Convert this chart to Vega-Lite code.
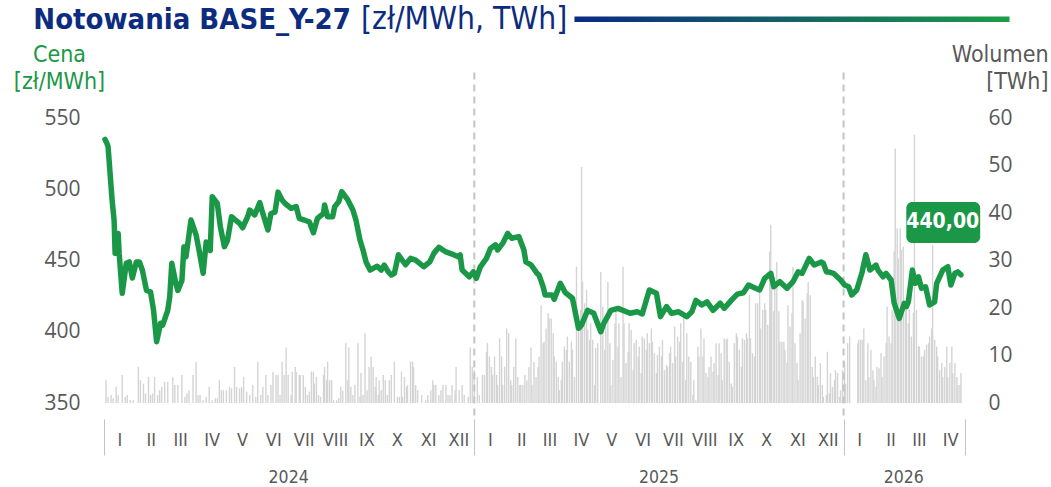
{
  "$schema": "https://vega.github.io/schema/vega-lite/v6.json",
  "width": 861,
  "height": 285,
  "autosize": {"type": "none"},
  "padding": {"left": 104, "top": 118, "right": 86, "bottom": 84},
  "background": "#ffffff",
  "config": {
    "view": {"stroke": null},
    "locale": {"number": {"decimal": ",", "thousands": " ", "grouping": [3], "currency": ["", " zł"]}}
  },
  "datasets": {
    "prices": [
      {"date": "2024-01-02", "price": 535}, {"date": "2024-01-04", "price": 532}, {"date": "2024-01-05", "price": 530},
      {"date": "2024-01-09", "price": 492.5}, {"date": "2024-01-11", "price": 478}, {"date": "2024-01-12", "price": 455},
      {"date": "2024-01-15", "price": 469}, {"date": "2024-01-16", "price": 455}, {"date": "2024-01-19", "price": 427},
      {"date": "2024-01-23", "price": 448}, {"date": "2024-01-26", "price": 449}, {"date": "2024-01-29", "price": 437.7},
      {"date": "2024-02-02", "price": 449}, {"date": "2024-02-05", "price": 449}, {"date": "2024-02-08", "price": 443},
      {"date": "2024-02-12", "price": 429}, {"date": "2024-02-16", "price": 428}, {"date": "2024-02-19", "price": 415},
      {"date": "2024-02-22", "price": 393}, {"date": "2024-02-26", "price": 406}, {"date": "2024-02-28", "price": 404.7},
      {"date": "2024-03-04", "price": 415}, {"date": "2024-03-06", "price": 424.6}, {"date": "2024-03-08", "price": 448},
      {"date": "2024-03-12", "price": 434}, {"date": "2024-03-14", "price": 429}, {"date": "2024-03-18", "price": 436},
      {"date": "2024-03-20", "price": 459.7}, {"date": "2024-03-22", "price": 452.6}, {"date": "2024-03-27", "price": 478.4},
      {"date": "2024-04-01", "price": 468}, {"date": "2024-04-04", "price": 457}, {"date": "2024-04-08", "price": 441},
      {"date": "2024-04-11", "price": 463}, {"date": "2024-04-15", "price": 457}, {"date": "2024-04-17", "price": 494.8},
      {"date": "2024-04-22", "price": 490}, {"date": "2024-04-25", "price": 473.7}, {"date": "2024-04-29", "price": 459.7},
      {"date": "2024-05-02", "price": 464}, {"date": "2024-05-06", "price": 480.7}, {"date": "2024-05-10", "price": 478.4},
      {"date": "2024-05-14", "price": 476}, {"date": "2024-05-17", "price": 473}, {"date": "2024-05-22", "price": 480.7},
      {"date": "2024-05-24", "price": 485.4}, {"date": "2024-05-29", "price": 482}, {"date": "2024-06-03", "price": 490.6},
      {"date": "2024-06-05", "price": 485.4}, {"date": "2024-06-07", "price": 480.7}, {"date": "2024-06-11", "price": 471.4},
      {"date": "2024-06-14", "price": 483}, {"date": "2024-06-18", "price": 484}, {"date": "2024-06-21", "price": 498},
      {"date": "2024-06-25", "price": 492.5}, {"date": "2024-06-28", "price": 490}, {"date": "2024-07-04", "price": 486.6},
      {"date": "2024-07-09", "price": 487.8}, {"date": "2024-07-12", "price": 479.6}, {"date": "2024-07-17", "price": 478.4},
      {"date": "2024-07-22", "price": 477}, {"date": "2024-07-26", "price": 469.5}, {"date": "2024-07-30", "price": 479.6},
      {"date": "2024-08-05", "price": 483}, {"date": "2024-08-06", "price": 489}, {"date": "2024-08-09", "price": 480.7},
      {"date": "2024-08-14", "price": 480.7}, {"date": "2024-08-16", "price": 487.8}, {"date": "2024-08-20", "price": 491.3},
      {"date": "2024-08-23", "price": 498.3}, {"date": "2024-08-29", "price": 492.5}, {"date": "2024-09-03", "price": 485.4},
      {"date": "2024-09-06", "price": 478.4}, {"date": "2024-09-10", "price": 464.4}, {"date": "2024-09-13", "price": 457.4},
      {"date": "2024-09-16", "price": 449}, {"date": "2024-09-20", "price": 443.3}, {"date": "2024-09-27", "price": 446},
      {"date": "2024-10-01", "price": 443.3}, {"date": "2024-10-04", "price": 446.8}, {"date": "2024-10-08", "price": 442},
      {"date": "2024-10-11", "price": 439.8}, {"date": "2024-10-14", "price": 441}, {"date": "2024-10-18", "price": 454},
      {"date": "2024-10-25", "price": 447}, {"date": "2024-10-30", "price": 451.5}, {"date": "2024-11-04", "price": 450.3},
      {"date": "2024-11-08", "price": 448}, {"date": "2024-11-12", "price": 445.6}, {"date": "2024-11-18", "price": 449},
      {"date": "2024-11-22", "price": 455}, {"date": "2024-11-27", "price": 459.3}, {"date": "2024-12-04", "price": 456},
      {"date": "2024-12-10", "price": 454.5}, {"date": "2024-12-16", "price": 452.6}, {"date": "2024-12-18", "price": 453.9},
      {"date": "2024-12-20", "price": 443.3}, {"date": "2024-12-27", "price": 438.6}, {"date": "2024-12-31", "price": 442},
      {"date": "2025-01-03", "price": 437.5}, {"date": "2025-01-07", "price": 445.6}, {"date": "2025-01-13", "price": 451.5},
      {"date": "2025-01-17", "price": 458.5}, {"date": "2025-01-22", "price": 461}, {"date": "2025-01-24", "price": 457.4},
      {"date": "2025-01-29", "price": 462}, {"date": "2025-02-03", "price": 469}, {"date": "2025-02-07", "price": 465.6},
      {"date": "2025-02-14", "price": 466.8}, {"date": "2025-02-19", "price": 457.4}, {"date": "2025-02-21", "price": 449},
      {"date": "2025-02-26", "price": 447}, {"date": "2025-03-04", "price": 441}, {"date": "2025-03-06", "price": 439.8},
      {"date": "2025-03-10", "price": 431.6}, {"date": "2025-03-12", "price": 425.8}, {"date": "2025-03-19", "price": 425.8},
      {"date": "2025-03-21", "price": 422.8}, {"date": "2025-03-27", "price": 434}, {"date": "2025-04-01", "price": 427.4},
      {"date": "2025-04-08", "price": 423.5}, {"date": "2025-04-14", "price": 402.4}, {"date": "2025-04-17", "price": 404.7},
      {"date": "2025-04-23", "price": 415}, {"date": "2025-04-29", "price": 413}, {"date": "2025-05-06", "price": 400},
      {"date": "2025-05-09", "price": 405.9}, {"date": "2025-05-16", "price": 415}, {"date": "2025-05-23", "price": 416.4},
      {"date": "2025-06-04", "price": 413}, {"date": "2025-06-11", "price": 414}, {"date": "2025-06-16", "price": 412.5},
      {"date": "2025-06-23", "price": 429.3}, {"date": "2025-06-30", "price": 427}, {"date": "2025-07-04", "price": 410.6},
      {"date": "2025-07-10", "price": 417.6}, {"date": "2025-07-15", "price": 413}, {"date": "2025-07-22", "price": 414},
      {"date": "2025-07-30", "price": 410.6}, {"date": "2025-08-04", "price": 414}, {"date": "2025-08-08", "price": 422},
      {"date": "2025-08-14", "price": 418.8}, {"date": "2025-08-19", "price": 421}, {"date": "2025-08-25", "price": 415},
      {"date": "2025-09-01", "price": 420}, {"date": "2025-09-05", "price": 416.4}, {"date": "2025-09-12", "price": 422},
      {"date": "2025-09-18", "price": 426.4}, {"date": "2025-09-24", "price": 427.4}, {"date": "2025-09-29", "price": 432.8},
      {"date": "2025-10-06", "price": 430.5}, {"date": "2025-10-10", "price": 429.3}, {"date": "2025-10-15", "price": 437.5},
      {"date": "2025-10-21", "price": 441}, {"date": "2025-10-24", "price": 431.6}, {"date": "2025-10-30", "price": 435.1},
      {"date": "2025-11-06", "price": 430.5}, {"date": "2025-11-12", "price": 435.1}, {"date": "2025-11-17", "price": 442},
      {"date": "2025-11-21", "price": 441}, {"date": "2025-11-28", "price": 451.5}, {"date": "2025-12-03", "price": 446.8},
      {"date": "2025-12-10", "price": 449}, {"date": "2025-12-12", "price": 448}, {"date": "2025-12-15", "price": 442},
      {"date": "2025-12-17", "price": 442}, {"date": "2025-12-22", "price": 441}, {"date": "2025-12-29", "price": 436.3},
      {"date": "2026-01-02", "price": 432.8}, {"date": "2026-01-06", "price": 431.6}, {"date": "2026-01-09", "price": 425.8},
      {"date": "2026-01-14", "price": 429.3}, {"date": "2026-01-19", "price": 441}, {"date": "2026-01-23", "price": 454},
      {"date": "2026-01-27", "price": 443.3}, {"date": "2026-02-02", "price": 446.8}, {"date": "2026-02-04", "price": 443.3},
      {"date": "2026-02-09", "price": 438.6}, {"date": "2026-02-12", "price": 441}, {"date": "2026-02-17", "price": 436.3},
      {"date": "2026-02-20", "price": 420}, {"date": "2026-02-25", "price": 409.4}, {"date": "2026-03-02", "price": 420},
      {"date": "2026-03-04", "price": 417.6}, {"date": "2026-03-06", "price": 421}, {"date": "2026-03-10", "price": 443.3},
      {"date": "2026-03-13", "price": 434}, {"date": "2026-03-16", "price": 438.6}, {"date": "2026-03-19", "price": 430.5},
      {"date": "2026-03-23", "price": 431.6}, {"date": "2026-03-27", "price": 418.8}, {"date": "2026-04-01", "price": 421},
      {"date": "2026-04-03", "price": 434}, {"date": "2026-04-09", "price": 443.3}, {"date": "2026-04-14", "price": 445.6},
      {"date": "2026-04-17", "price": 432.8}, {"date": "2026-04-21", "price": 441}, {"date": "2026-04-24", "price": 442},
      {"date": "2026-04-27", "price": 440}
    ],
    "volumes": [
      {"date": "2024-01-03", "volume": 4.8}, {"date": "2024-01-05", "volume": 1.3}, {"date": "2024-01-08", "volume": 1.7}, {"date": "2024-01-10", "volume": 1.0},
      {"date": "2024-01-13", "volume": 3.4}, {"date": "2024-01-15", "volume": 1.7}, {"date": "2024-01-19", "volume": 5.9}, {"date": "2024-01-22", "volume": 1.3},
      {"date": "2024-01-24", "volume": 1.7}, {"date": "2024-01-27", "volume": 0.6}, {"date": "2024-01-30", "volume": 0.6}, {"date": "2024-02-04", "volume": 7.6},
      {"date": "2024-02-06", "volume": 4.8}, {"date": "2024-02-09", "volume": 4.1}, {"date": "2024-02-11", "volume": 2.0}, {"date": "2024-02-14", "volume": 5.5},
      {"date": "2024-02-16", "volume": 1.7}, {"date": "2024-02-18", "volume": 2.0}, {"date": "2024-02-20", "volume": 5.5}, {"date": "2024-02-23", "volume": 1.7},
      {"date": "2024-02-25", "volume": 2.7}, {"date": "2024-02-27", "volume": 3.4}, {"date": "2024-03-01", "volume": 4.5}, {"date": "2024-03-04", "volume": 4.5},
      {"date": "2024-03-09", "volume": 5.5}, {"date": "2024-03-11", "volume": 3.8}, {"date": "2024-03-14", "volume": 3.8}, {"date": "2024-03-18", "volume": 5.9},
      {"date": "2024-03-21", "volume": 1.3}, {"date": "2024-03-23", "volume": 2.0}, {"date": "2024-03-25", "volume": 2.7}, {"date": "2024-03-29", "volume": 5.9},
      {"date": "2024-04-01", "volume": 8.7}, {"date": "2024-04-03", "volume": 1.7}, {"date": "2024-04-05", "volume": 1.7}, {"date": "2024-04-08", "volume": 0.6},
      {"date": "2024-04-11", "volume": 1.3}, {"date": "2024-04-14", "volume": 3.4}, {"date": "2024-04-17", "volume": 0.6}, {"date": "2024-04-20", "volume": 1.0},
      {"date": "2024-04-22", "volume": 1.0}, {"date": "2024-04-24", "volume": 4.8}, {"date": "2024-04-26", "volume": 2.7}, {"date": "2024-04-28", "volume": 2.7},
      {"date": "2024-05-01", "volume": 2.7}, {"date": "2024-05-04", "volume": 3.4}, {"date": "2024-05-06", "volume": 3.1}, {"date": "2024-05-09", "volume": 7.6},
      {"date": "2024-05-11", "volume": 3.4}, {"date": "2024-05-14", "volume": 3.1}, {"date": "2024-05-16", "volume": 3.4}, {"date": "2024-05-18", "volume": 5.5},
      {"date": "2024-05-21", "volume": 2.4}, {"date": "2024-05-24", "volume": 1.7}, {"date": "2024-05-27", "volume": 3.8}, {"date": "2024-05-30", "volume": 1.3},
      {"date": "2024-06-01", "volume": 8.7}, {"date": "2024-06-04", "volume": 1.7}, {"date": "2024-06-06", "volume": 3.4}, {"date": "2024-06-09", "volume": 5.9},
      {"date": "2024-06-11", "volume": 1.7}, {"date": "2024-06-14", "volume": 3.8}, {"date": "2024-06-16", "volume": 6.6}, {"date": "2024-06-19", "volume": 5.9},
      {"date": "2024-06-21", "volume": 5.9}, {"date": "2024-06-23", "volume": 1.7}, {"date": "2024-06-25", "volume": 8.7}, {"date": "2024-06-27", "volume": 5.9},
      {"date": "2024-06-29", "volume": 11.7}, {"date": "2024-07-01", "volume": 5.9}, {"date": "2024-07-04", "volume": 1.7}, {"date": "2024-07-05", "volume": 6.6},
      {"date": "2024-07-08", "volume": 7.6}, {"date": "2024-07-09", "volume": 6.6}, {"date": "2024-07-12", "volume": 5.9}, {"date": "2024-07-13", "volume": 5.9},
      {"date": "2024-07-16", "volume": 5.9}, {"date": "2024-07-18", "volume": 3.4}, {"date": "2024-07-20", "volume": 1.7}, {"date": "2024-07-22", "volume": 2.4},
      {"date": "2024-07-24", "volume": 6.6}, {"date": "2024-07-26", "volume": 6.6}, {"date": "2024-07-27", "volume": 4.1}, {"date": "2024-07-29", "volume": 5.5},
      {"date": "2024-07-31", "volume": 1.7}, {"date": "2024-08-02", "volume": 1.3}, {"date": "2024-08-05", "volume": 5.9}, {"date": "2024-08-06", "volume": 7.6},
      {"date": "2024-08-08", "volume": 4.8}, {"date": "2024-08-09", "volume": 8.7}, {"date": "2024-08-11", "volume": 4.8}, {"date": "2024-08-13", "volume": 4.8},
      {"date": "2024-08-15", "volume": 0.6}, {"date": "2024-08-18", "volume": 0.6}, {"date": "2024-08-20", "volume": 1.0}, {"date": "2024-08-22", "volume": 3.4},
      {"date": "2024-08-24", "volume": 2.7}, {"date": "2024-08-27", "volume": 12.6}, {"date": "2024-08-29", "volume": 4.8}, {"date": "2024-08-30", "volume": 11.7},
      {"date": "2024-09-01", "volume": 3.4}, {"date": "2024-09-03", "volume": 1.7}, {"date": "2024-09-05", "volume": 3.8}, {"date": "2024-09-08", "volume": 12.6},
      {"date": "2024-09-10", "volume": 1.3}, {"date": "2024-09-11", "volume": 6.3}, {"date": "2024-09-13", "volume": 1.7}, {"date": "2024-09-15", "volume": 14.7},
      {"date": "2024-09-17", "volume": 2.7}, {"date": "2024-09-19", "volume": 7.6}, {"date": "2024-09-21", "volume": 9.8}, {"date": "2024-09-23", "volume": 7.6},
      {"date": "2024-09-25", "volume": 3.4}, {"date": "2024-09-26", "volume": 5.5}, {"date": "2024-09-28", "volume": 1.7}, {"date": "2024-09-29", "volume": 4.8},
      {"date": "2024-10-01", "volume": 2.7}, {"date": "2024-10-03", "volume": 5.9}, {"date": "2024-10-05", "volume": 4.8}, {"date": "2024-10-07", "volume": 1.7},
      {"date": "2024-10-09", "volume": 4.8}, {"date": "2024-10-11", "volume": 5.9}, {"date": "2024-10-14", "volume": 8.7}, {"date": "2024-10-17", "volume": 1.3},
      {"date": "2024-10-19", "volume": 1.3}, {"date": "2024-10-21", "volume": 6.6}, {"date": "2024-10-22", "volume": 1.3}, {"date": "2024-10-24", "volume": 5.5},
      {"date": "2024-10-26", "volume": 3.4}, {"date": "2024-10-27", "volume": 3.8}, {"date": "2024-10-30", "volume": 8.7}, {"date": "2024-11-01", "volume": 8.7},
      {"date": "2024-11-02", "volume": 7.6}, {"date": "2024-11-04", "volume": 3.8}, {"date": "2024-11-06", "volume": 2.7}, {"date": "2024-11-10", "volume": 1.7},
      {"date": "2024-11-14", "volume": 0.6}, {"date": "2024-11-16", "volume": 1.7}, {"date": "2024-11-19", "volume": 2.7}, {"date": "2024-11-21", "volume": 4.8},
      {"date": "2024-11-22", "volume": 3.8}, {"date": "2024-11-24", "volume": 3.8}, {"date": "2024-11-27", "volume": 1.7}, {"date": "2024-11-29", "volume": 2.7},
      {"date": "2024-12-01", "volume": 3.8}, {"date": "2024-12-04", "volume": 3.8}, {"date": "2024-12-06", "volume": 1.7}, {"date": "2024-12-08", "volume": 1.7},
      {"date": "2024-12-10", "volume": 3.8}, {"date": "2024-12-13", "volume": 2.7}, {"date": "2024-12-14", "volume": 7.6}, {"date": "2024-12-17", "volume": 2.7},
      {"date": "2024-12-20", "volume": 3.8}, {"date": "2024-12-22", "volume": 1.7}, {"date": "2024-12-26", "volume": 1.3}, {"date": "2024-12-28", "volume": 11.7},
      {"date": "2024-12-30", "volume": 7.6},
      {"date": "2025-01-01", "volume": 6.9}, {"date": "2025-01-04", "volume": 5.5}, {"date": "2025-01-06", "volume": 1.7}, {"date": "2025-01-09", "volume": 5.9},
      {"date": "2025-01-11", "volume": 5.9}, {"date": "2025-01-13", "volume": 10.8}, {"date": "2025-01-14", "volume": 12.6}, {"date": "2025-01-16", "volume": 9.8},
      {"date": "2025-01-18", "volume": 7.6}, {"date": "2025-01-19", "volume": 5.9}, {"date": "2025-01-21", "volume": 9.8}, {"date": "2025-01-23", "volume": 5.9},
      {"date": "2025-01-24", "volume": 3.8}, {"date": "2025-01-26", "volume": 13.6}, {"date": "2025-01-28", "volume": 9.8}, {"date": "2025-01-29", "volume": 3.8},
      {"date": "2025-01-31", "volume": 7.6}, {"date": "2025-02-02", "volume": 15.7}, {"date": "2025-02-04", "volume": 14.7}, {"date": "2025-02-06", "volume": 4.8},
      {"date": "2025-02-07", "volume": 3.8}, {"date": "2025-02-09", "volume": 7.6}, {"date": "2025-02-11", "volume": 13.6}, {"date": "2025-02-13", "volume": 5.5},
      {"date": "2025-02-15", "volume": 3.8}, {"date": "2025-02-16", "volume": 3.8}, {"date": "2025-02-18", "volume": 3.8}, {"date": "2025-02-20", "volume": 5.9},
      {"date": "2025-02-22", "volume": 4.8}, {"date": "2025-02-24", "volume": 7.6}, {"date": "2025-02-26", "volume": 11.7}, {"date": "2025-02-27", "volume": 3.8},
      {"date": "2025-03-01", "volume": 8.7}, {"date": "2025-03-03", "volume": 5.5}, {"date": "2025-03-05", "volume": 7.6}, {"date": "2025-03-06", "volume": 9.8},
      {"date": "2025-03-08", "volume": 20.6}, {"date": "2025-03-10", "volume": 12.6}, {"date": "2025-03-11", "volume": 12.9}, {"date": "2025-03-13", "volume": 15.7},
      {"date": "2025-03-15", "volume": 18.9}, {"date": "2025-03-16", "volume": 17.8}, {"date": "2025-03-18", "volume": 17.8}, {"date": "2025-03-20", "volume": 14.7},
      {"date": "2025-03-21", "volume": 9.8}, {"date": "2025-03-23", "volume": 8.7}, {"date": "2025-03-25", "volume": 5.5}, {"date": "2025-03-26", "volume": 2.7},
      {"date": "2025-03-28", "volume": 4.8}, {"date": "2025-03-29", "volume": 8.7}, {"date": "2025-03-31", "volume": 11.9}, {"date": "2025-04-02", "volume": 11.2},
      {"date": "2025-04-03", "volume": 14.0}, {"date": "2025-04-05", "volume": 8.7}, {"date": "2025-04-07", "volume": 12.9}, {"date": "2025-04-08", "volume": 11.2},
      {"date": "2025-04-10", "volume": 5.5}, {"date": "2025-04-12", "volume": 28.7}, {"date": "2025-04-14", "volume": 15.4}, {"date": "2025-04-16", "volume": 19.6},
      {"date": "2025-04-17", "volume": 49.7}, {"date": "2025-04-18", "volume": 25.5}, {"date": "2025-04-20", "volume": 21.0}, {"date": "2025-04-22", "volume": 23.8},
      {"date": "2025-04-23", "volume": 15.4}, {"date": "2025-04-25", "volume": 13.3}, {"date": "2025-04-26", "volume": 16.8}, {"date": "2025-04-28", "volume": 13.3},
      {"date": "2025-04-30", "volume": 3.8}, {"date": "2025-05-01", "volume": 11.6}, {"date": "2025-05-03", "volume": 12.6}, {"date": "2025-05-06", "volume": 27.6},
      {"date": "2025-05-08", "volume": 20.3}, {"date": "2025-05-10", "volume": 11.2}, {"date": "2025-05-11", "volume": 16.1}, {"date": "2025-05-13", "volume": 25.5},
      {"date": "2025-05-15", "volume": 12.6}, {"date": "2025-05-16", "volume": 3.8}, {"date": "2025-05-18", "volume": 9.1}, {"date": "2025-05-20", "volume": 16.8},
      {"date": "2025-05-21", "volume": 19.6}, {"date": "2025-05-23", "volume": 11.9}, {"date": "2025-05-24", "volume": 16.8}, {"date": "2025-05-26", "volume": 5.5},
      {"date": "2025-05-28", "volume": 28.7}, {"date": "2025-05-29", "volume": 16.8}, {"date": "2025-05-31", "volume": 8.4}, {"date": "2025-06-02", "volume": 10.8},
      {"date": "2025-06-03", "volume": 16.8}, {"date": "2025-06-05", "volume": 15.4}, {"date": "2025-06-07", "volume": 6.9}, {"date": "2025-06-08", "volume": 12.6},
      {"date": "2025-06-10", "volume": 13.3}, {"date": "2025-06-12", "volume": 9.8}, {"date": "2025-06-13", "volume": 11.9}, {"date": "2025-06-15", "volume": 6.3},
      {"date": "2025-06-16", "volume": 14.0}, {"date": "2025-06-18", "volume": 13.6}, {"date": "2025-06-20", "volume": 11.2}, {"date": "2025-06-21", "volume": 14.7},
      {"date": "2025-06-23", "volume": 12.6}, {"date": "2025-06-25", "volume": 15.7}, {"date": "2025-06-26", "volume": 12.9}, {"date": "2025-06-28", "volume": 10.5},
      {"date": "2025-06-30", "volume": 6.3}, {"date": "2025-07-01", "volume": 10.1}, {"date": "2025-07-03", "volume": 11.9}, {"date": "2025-07-05", "volume": 9.8},
      {"date": "2025-07-06", "volume": 13.3}, {"date": "2025-07-08", "volume": 6.9}, {"date": "2025-07-10", "volume": 8.0}, {"date": "2025-07-11", "volume": 7.6},
      {"date": "2025-07-13", "volume": 10.5}, {"date": "2025-07-14", "volume": 11.9}, {"date": "2025-07-16", "volume": 8.4}, {"date": "2025-07-18", "volume": 16.1},
      {"date": "2025-07-19", "volume": 9.8}, {"date": "2025-07-21", "volume": 14.0}, {"date": "2025-07-23", "volume": 12.9}, {"date": "2025-07-24", "volume": 16.8},
      {"date": "2025-07-26", "volume": 8.7}, {"date": "2025-07-27", "volume": 18.2}, {"date": "2025-07-29", "volume": 4.8}, {"date": "2025-07-30", "volume": 14.7},
      {"date": "2025-08-01", "volume": 9.8}, {"date": "2025-08-03", "volume": 8.7}, {"date": "2025-08-05", "volume": 1.7}, {"date": "2025-08-06", "volume": 4.8},
      {"date": "2025-08-08", "volume": 0.6}, {"date": "2025-08-10", "volume": 11.9}, {"date": "2025-08-11", "volume": 9.8}, {"date": "2025-08-13", "volume": 15.7},
      {"date": "2025-08-15", "volume": 9.8}, {"date": "2025-08-16", "volume": 13.6}, {"date": "2025-08-18", "volume": 6.3}, {"date": "2025-08-20", "volume": 5.5},
      {"date": "2025-08-21", "volume": 7.6}, {"date": "2025-08-23", "volume": 9.8}, {"date": "2025-08-25", "volume": 6.6}, {"date": "2025-08-26", "volume": 8.4},
      {"date": "2025-08-28", "volume": 12.6}, {"date": "2025-08-30", "volume": 5.9}, {"date": "2025-08-31", "volume": 12.6}, {"date": "2025-09-02", "volume": 10.5},
      {"date": "2025-09-03", "volume": 4.8}, {"date": "2025-09-05", "volume": 13.6}, {"date": "2025-09-07", "volume": 13.3}, {"date": "2025-09-08", "volume": 13.6},
      {"date": "2025-09-10", "volume": 8.7}, {"date": "2025-09-12", "volume": 4.1}, {"date": "2025-09-13", "volume": 3.4}, {"date": "2025-09-15", "volume": 12.6},
      {"date": "2025-09-17", "volume": 14.7}, {"date": "2025-09-18", "volume": 14.0}, {"date": "2025-09-20", "volume": 11.2}, {"date": "2025-09-22", "volume": 7.6},
      {"date": "2025-09-23", "volume": 13.6}, {"date": "2025-09-25", "volume": 13.3}, {"date": "2025-09-27", "volume": 14.7}, {"date": "2025-09-28", "volume": 13.6},
      {"date": "2025-09-30", "volume": 22.7}, {"date": "2025-10-01", "volume": 13.6}, {"date": "2025-10-03", "volume": 10.5}, {"date": "2025-10-05", "volume": 9.8},
      {"date": "2025-10-06", "volume": 21.0}, {"date": "2025-10-08", "volume": 21.0}, {"date": "2025-10-10", "volume": 23.4}, {"date": "2025-10-11", "volume": 15.7},
      {"date": "2025-10-13", "volume": 19.6}, {"date": "2025-10-15", "volume": 21.0}, {"date": "2025-10-16", "volume": 19.6}, {"date": "2025-10-18", "volume": 16.5},
      {"date": "2025-10-20", "volume": 31.9}, {"date": "2025-10-21", "volume": 37.5}, {"date": "2025-10-22", "volume": 25.5}, {"date": "2025-10-24", "volume": 19.3},
      {"date": "2025-10-25", "volume": 26.6}, {"date": "2025-10-27", "volume": 29.7}, {"date": "2025-10-29", "volume": 19.3}, {"date": "2025-10-30", "volume": 12.9},
      {"date": "2025-11-01", "volume": 12.9}, {"date": "2025-11-03", "volume": 12.9}, {"date": "2025-11-04", "volume": 11.2}, {"date": "2025-11-06", "volume": 8.4},
      {"date": "2025-11-07", "volume": 20.6}, {"date": "2025-11-09", "volume": 16.1}, {"date": "2025-11-11", "volume": 18.9}, {"date": "2025-11-12", "volume": 28.7},
      {"date": "2025-11-14", "volume": 12.6}, {"date": "2025-11-16", "volume": 8.4}, {"date": "2025-11-17", "volume": 4.8}, {"date": "2025-11-19", "volume": 14.7},
      {"date": "2025-11-21", "volume": 21.7}, {"date": "2025-11-22", "volume": 21.3}, {"date": "2025-11-24", "volume": 17.8}, {"date": "2025-11-26", "volume": 23.1},
      {"date": "2025-11-27", "volume": 25.5}, {"date": "2025-11-29", "volume": 22.7}, {"date": "2025-12-01", "volume": 7.6}, {"date": "2025-12-02", "volume": 5.5},
      {"date": "2025-12-04", "volume": 9.8}, {"date": "2025-12-06", "volume": 5.5}, {"date": "2025-12-07", "volume": 3.8}, {"date": "2025-12-09", "volume": 8.4},
      {"date": "2025-12-11", "volume": 3.8}, {"date": "2025-12-12", "volume": 1.3}, {"date": "2025-12-15", "volume": 1.7}, {"date": "2025-12-16", "volume": 10.8},
      {"date": "2025-12-18", "volume": 2.0}, {"date": "2025-12-19", "volume": 6.3}, {"date": "2025-12-21", "volume": 3.4}, {"date": "2025-12-23", "volume": 4.8},
      {"date": "2025-12-24", "volume": 6.9}, {"date": "2025-12-26", "volume": 6.3}, {"date": "2025-12-28", "volume": 1.3}, {"date": "2025-12-29", "volume": 2.7},
      {"date": "2025-12-31", "volume": 6.9},
      {"date": "2026-01-02", "volume": 8.7}, {"date": "2026-01-03", "volume": 4.1}, {"date": "2026-01-05", "volume": 12.6}, {"date": "2026-01-07", "volume": 14.0},
      {"date": "2026-01-15", "volume": 12.6}, {"date": "2026-01-16", "volume": 13.3}, {"date": "2026-01-18", "volume": 13.3}, {"date": "2026-01-20", "volume": 13.3},
      {"date": "2026-01-21", "volume": 15.7}, {"date": "2026-01-23", "volume": 4.8}, {"date": "2026-01-25", "volume": 12.6}, {"date": "2026-01-26", "volume": 5.5},
      {"date": "2026-01-28", "volume": 11.2}, {"date": "2026-01-30", "volume": 6.9}, {"date": "2026-01-31", "volume": 4.8}, {"date": "2026-02-02", "volume": 3.4},
      {"date": "2026-02-03", "volume": 7.6}, {"date": "2026-02-05", "volume": 7.3}, {"date": "2026-02-07", "volume": 10.5}, {"date": "2026-02-08", "volume": 5.5},
      {"date": "2026-02-10", "volume": 9.8}, {"date": "2026-02-12", "volume": 12.6}, {"date": "2026-02-13", "volume": 20.3}, {"date": "2026-02-15", "volume": 14.0},
      {"date": "2026-02-17", "volume": 12.6}, {"date": "2026-02-18", "volume": 19.6}, {"date": "2026-02-20", "volume": 31.9}, {"date": "2026-02-21", "volume": 53.6},
      {"date": "2026-02-23", "volume": 36.8}, {"date": "2026-02-24", "volume": 30.5}, {"date": "2026-02-26", "volume": 36.8}, {"date": "2026-02-27", "volume": 32.2},
      {"date": "2026-03-01", "volume": 32.9}, {"date": "2026-03-03", "volume": 19.6}, {"date": "2026-03-04", "volume": 19.6}, {"date": "2026-03-06", "volume": 16.8},
      {"date": "2026-03-07", "volume": 19.6}, {"date": "2026-03-09", "volume": 14.0}, {"date": "2026-03-11", "volume": 18.9}, {"date": "2026-03-12", "volume": 56.5},
      {"date": "2026-03-14", "volume": 19.6}, {"date": "2026-03-16", "volume": 11.9}, {"date": "2026-03-17", "volume": 11.9}, {"date": "2026-03-19", "volume": 9.8},
      {"date": "2026-03-21", "volume": 9.8}, {"date": "2026-03-22", "volume": 11.2}, {"date": "2026-03-24", "volume": 12.3}, {"date": "2026-03-26", "volume": 12.6},
      {"date": "2026-03-27", "volume": 14.0}, {"date": "2026-03-29", "volume": 15.7}, {"date": "2026-03-30", "volume": 33.3}, {"date": "2026-04-01", "volume": 13.3},
      {"date": "2026-04-03", "volume": 11.9}, {"date": "2026-04-04", "volume": 9.8}, {"date": "2026-04-06", "volume": 6.9}, {"date": "2026-04-08", "volume": 8.4},
      {"date": "2026-04-09", "volume": 5.5}, {"date": "2026-04-11", "volume": 7.6}, {"date": "2026-04-13", "volume": 11.9}, {"date": "2026-04-14", "volume": 5.5},
      {"date": "2026-04-16", "volume": 8.4}, {"date": "2026-04-18", "volume": 11.9}, {"date": "2026-04-19", "volume": 6.3}, {"date": "2026-04-21", "volume": 8.4},
      {"date": "2026-04-23", "volume": 5.5}, {"date": "2026-04-24", "volume": 3.8}, {"date": "2026-04-26", "volume": 3.8}, {"date": "2026-04-27", "volume": 6.3}
    ],
    "years": [{"date": "2025-01-01"}, {"date": "2026-01-01"}]
  },
  "layer": [
    {
      "data": {"name": "volumes"},
      "mark": {"type": "rule", "strokeWidth": 1.4, "color": "#d4d4d4", "clip": false},
      "encoding": {
        "x": {
          "field": "date", "type": "temporal",
          "scale": {"type": "utc", "nice": false, "domain": [{"year": 2024, "month": 1, "date": 1, "utc": true}, {"year": 2026, "month": 5, "date": 1, "utc": true}]},
          "axis": {
            "orient": "bottom", "title": null, "grid": false, "domain": false,
            "tickCount": {"interval": "month", "step": 1},
            "labelExpr": "utcyear(datum.value) == 2026 && utcmonth(datum.value) == 4 ? '' : ['I','II','III','IV','V','VI','VII','VIII','IX','X','XI','XII'][utcmonth(datum.value)]",
            "labelOffset": 15.5, "labelAlign": "center", "labelBaseline": "middle",
            "labelPadding": -15, "labelFlush": false, "labelOverlap": false, "labelBound": false,
            "labelFont": "Liberation Sans Narrow, DejaVu Sans Condensed, Roboto Condensed, Roboto, sans-serif",
            "labelFontSize": 18, "labelColor": "#595959",
            "ticks": true, "tickSize": 36, "offset": 16, "tickColor": "#c4c4c4", "tickWidth": 1,
            "tickOpacity": {"condition": {"test": "utcmonth(datum.value) == 0 || (utcyear(datum.value) == 2026 && utcmonth(datum.value) == 4)", "value": 1}, "value": 0}
          }
        },
        "y": {
          "field": "volume", "type": "quantitative",
          "scale": {"domain": [0, 60], "nice": false},
          "axis": {
            "orient": "right", "values": [0, 10, 20, 30, 40, 50, 60], "grid": false, "domain": false, "ticks": false, "tickSize": 0,
            "labelPadding": 23, "labelFont": "Open Sans, Noto Sans, sans-serif", "labelFontSize": 21, "labelColor": "#595959",
            "title": ["Wolumen", "[TWh]"], "titleAngle": 0, "titleAlign": "right", "titleBaseline": "alphabetic",
            "titleX": 83, "titleY": -57, "titleLineHeight": 27,
            "titleFont": "Liberation Sans Narrow, DejaVu Sans Condensed, Roboto Condensed, Roboto, sans-serif",
            "titleFontSize": 23, "titleFontWeight": "normal", "titleColor": "#595959"
          }
        },
        "y2": {"datum": 0}
      }
    },
    {
      "data": {"values": [{}]},
      "mark": {"type": "rect", "clip": false, "color": {"gradient": "linear", "x1": 0, "x2": 1, "y1": 0, "y2": 0, "stops": [{"offset": 0, "color": "#0b2a84"}, {"offset": 1, "color": "#1c9c47"}]}},
      "encoding": {
        "x": {"datum": {"year": 2025, "month": 4, "date": 10, "utc": true}, "type": "temporal", "axis": null},
        "x2": {"datum": {"year": 2026, "month": 6, "date": 14, "utc": true}},
        "y": {"datum": 621.2, "type": "quantitative", "scale": {"domain": [350, 550], "nice": false, "zero": false}, "axis": null},
        "y2": {"datum": 617.4}
      }
    },
    {
      "data": {"values": [{}]},
      "mark": {"type": "text", "clip": false, "align": "right", "baseline": "alphabetic", "font": "Liberation Sans Narrow, DejaVu Sans Condensed, Roboto Condensed, Roboto, sans-serif", "fontSize": 29, "fontWeight": "bold", "color": "#0d2c80"},
      "encoding": {
        "x": {"datum": {"year": 2024, "month": 9, "date": 1, "utc": true}, "type": "temporal", "axis": null},
        "y": {"datum": 612.5, "type": "quantitative", "scale": {"domain": [350, 550], "nice": false, "zero": false}, "axis": null},
        "text": {"value": "Notowania BASE_Y-27"}
      }
    },
    {
      "data": {"values": [{}]},
      "mark": {"type": "text", "clip": false, "align": "left", "baseline": "alphabetic", "font": "Liberation Sans Narrow, DejaVu Sans Condensed, Roboto Condensed, Roboto, sans-serif", "fontSize": 31.5, "color": "#0d2c80"},
      "encoding": {
        "x": {"datum": {"year": 2024, "month": 9, "date": 11, "utc": true}, "type": "temporal", "axis": null},
        "y": {"datum": 612.5, "type": "quantitative", "scale": {"domain": [350, 550], "nice": false, "zero": false}, "axis": null},
        "text": {"value": "[zł/MWh, TWh]"}
      }
    },
    {
      "data": {"name": "years"},
      "mark": {"type": "rule", "clip": false, "color": "#c4c4c4", "strokeWidth": 2, "strokeDash": [7, 5]},
      "encoding": {
        "x": {"field": "date", "type": "temporal", "axis": null},
        "y": {"datum": 582, "type": "quantitative", "scale": {"domain": [350, 550], "nice": false, "zero": false}, "axis": null},
        "y2": {"datum": 340}
      }
    },
    {
      "data": {"name": "prices"},
      "mark": {"type": "line", "clip": false, "color": "#1b9847", "strokeWidth": 5.5, "strokeJoin": "round", "strokeCap": "round"},
      "encoding": {
        "x": {
          "field": "date", "type": "temporal",
          "axis": {
            "orient": "bottom", "title": null, "grid": false, "domain": false, "ticks": false, "tickSize": 0,
            "values": [{"year": 2024, "month": 7, "date": 1, "utc": true}, {"year": 2025, "month": 7, "date": 2, "utc": true}, {"year": 2026, "month": 3, "date": 1, "utc": true}],
            "labelExpr": "'' + utcyear(datum.value)",
            "labelPadding": 74, "labelBaseline": "middle", "labelAlign": "center", "labelFlush": false, "labelOverlap": false,
            "labelFont": "Liberation Sans Narrow, DejaVu Sans Condensed, Roboto Condensed, Roboto, sans-serif",
            "labelFontSize": 17.5, "labelColor": "#595959"
          }
        },
        "y": {
          "field": "price", "type": "quantitative",
          "scale": {"domain": [350, 550], "nice": false, "zero": false},
          "axis": {
            "orient": "left", "values": [350, 400, 450, 500, 550], "grid": false, "domain": false, "ticks": false, "tickSize": 0,
            "labelPadding": 24, "labelFont": "Open Sans, Noto Sans, sans-serif", "labelFontSize": 21, "labelColor": "#595959",
            "title": ["Cena", "[zł/MWh]"], "titleAngle": 0, "titleAlign": "center", "titleBaseline": "alphabetic",
            "titleX": -45, "titleY": -57, "titleLineHeight": 27,
            "titleFont": "Liberation Sans Narrow, DejaVu Sans Condensed, Roboto Condensed, Roboto, sans-serif",
            "titleFontSize": 23, "titleFontWeight": "normal", "titleColor": "#1b9847"
          }
        }
      }
    },
    {
      "data": {"values": [{}]},
      "mark": {"type": "rect", "clip": false, "color": "#1b9847", "cornerRadius": 6},
      "encoding": {
        "x": {"datum": {"year": 2026, "month": 3, "date": 4, "utc": true}, "type": "temporal", "axis": null},
        "x2": {"datum": {"year": 2026, "month": 5, "date": 16, "utc": true}},
        "y": {"datum": 491, "type": "quantitative", "scale": {"domain": [350, 550], "nice": false, "zero": false}, "axis": null},
        "y2": {"datum": 462.3}
      }
    },
    {
      "data": {"name": "prices"},
      "transform": [{"aggregate": [{"op": "argmax", "field": "date", "as": "last"}]}, {"calculate": "datum.last.price", "as": "lastPrice"}],
      "mark": {"type": "text", "clip": false, "align": "center", "baseline": "middle", "color": "#ffffff", "fontWeight": "bold", "fontSize": 21, "font": "Liberation Sans Narrow, DejaVu Sans Condensed, Roboto Condensed, Roboto, sans-serif"},
      "encoding": {
        "x": {"datum": {"year": 2026, "month": 4, "date": 9, "utc": true}, "type": "temporal", "axis": null},
        "y": {"datum": 476.7, "type": "quantitative", "scale": {"domain": [350, 550], "nice": false, "zero": false}, "axis": null},
        "text": {"field": "lastPrice", "type": "quantitative", "format": ".2f"}
      }
    }
  ],
  "resolve": {"scale": {"y": "independent"}, "axis": {"x": "independent", "y": "independent"}}
}
